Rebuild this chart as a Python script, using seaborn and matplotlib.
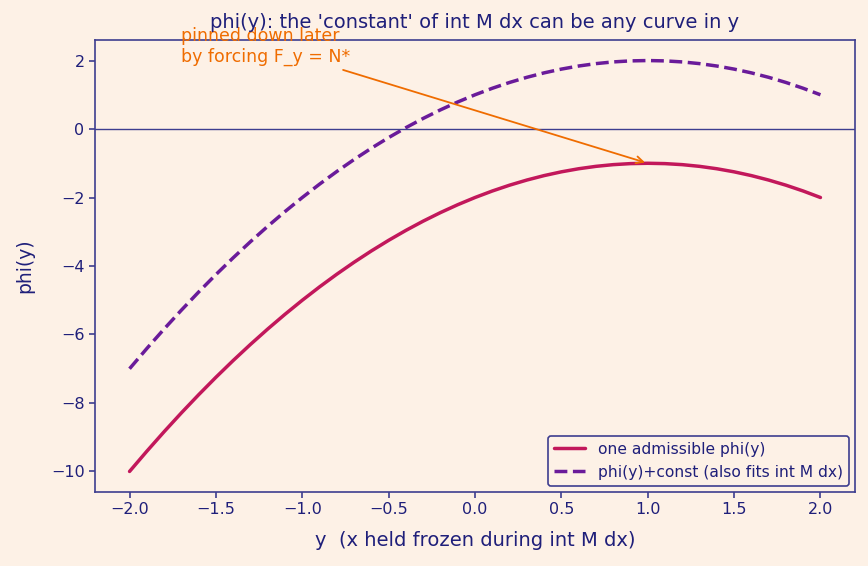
import matplotlib
matplotlib.use("Agg")
import matplotlib.pyplot as plt
import seaborn as sns
import pandas as pd

# data
y_vals = [-2.0, -1.9, -1.8, -1.7, -1.6, -1.5, -1.4, -1.3, -1.2, -1.1,
          -1.0, -0.9, -0.8, -0.7, -0.6, -0.5, -0.4, -0.3, -0.2, -0.1,
          0.0, 0.1, 0.2, 0.3, 0.4, 0.5, 0.6, 0.7, 0.8, 0.9,
          1.0, 1.1, 1.2, 1.3, 1.4, 1.5, 1.6, 1.7, 1.8, 1.9, 2.0]
phi_one = [-10.0, -9.41, -8.84, -8.29, -7.76, -7.25, -6.76, -6.29, -5.84, -5.41,
           -5.0, -4.61, -4.24, -3.89, -3.56, -3.25, -2.96, -2.69, -2.44, -2.21,
           -2.0, -1.81, -1.64, -1.49, -1.36, -1.25, -1.16, -1.09, -1.04, -1.01,
           -1.0, -1.01, -1.04, -1.09, -1.16, -1.25, -1.36, -1.49, -1.64, -1.81, -2.0]
phi_shift = [-7.0, -6.41, -5.84, -5.29, -4.76, -4.25, -3.76, -3.29, -2.84, -2.41,
             -2.0, -1.61, -1.24, -0.89, -0.56, -0.25, 0.04, 0.31, 0.56, 0.79,
             1.0, 1.19, 1.36, 1.51, 1.64, 1.75, 1.84, 1.91, 1.96, 1.99,
             2.0, 1.99, 1.96, 1.91, 1.84, 1.75, 1.64, 1.51, 1.36, 1.19, 1.0]
label_one = "one admissible phi(y)"
label_shift = "phi(y)+const (also fits int M dx)"
x_ticks = [-2.0, -1.5, -1.0, -0.5, 0.0, 0.5, 1.0, 1.5, 2.0]
y_ticks = [-10, -8, -6, -4, -2, 0, 2]

bg = "#fdf1e6"
navy = "#1f1f7a"
spine = "#3d3d8f"
red = "#c2185b"
purple = "#6a1b9a"
orange = "#ef6c00"

sns.set_style("white")
plt.rcParams["font.family"] = ["DejaVu Sans"]

fig = plt.figure(figsize=(8.68, 5.66), dpi=100, facecolor=bg)
ax = fig.add_axes([95/868, 1 - 492/566, 760/868, 452/566])
ax.set_facecolor(bg)

df1 = pd.DataFrame({"y": y_vals, "phi": phi_one})
df2 = pd.DataFrame({"y": y_vals, "phi": phi_shift})
sns.lineplot(data=df1, x="y", y="phi", ax=ax, color=red, lw=2.5, label=label_one)
sns.lineplot(data=df2, x="y", y="phi", ax=ax, color=purple, lw=2.5,
             linestyle=(0, (3.7, 1.6)), label=label_shift)

ax.axhline(0, color=spine, lw=1)

ax.set_xlim(-2.2, 2.2)
ax.set_ylim(-10.6, 2.6)
ax.set_xticks(x_ticks)
ax.set_yticks(y_ticks)

for s in ax.spines.values():
    s.set_color(spine)
    s.set_linewidth(1.2)
ax.tick_params(colors=spine, labelcolor=navy, labelsize=11.5, length=4, width=1.2,
               left=True, bottom=True)

ax.set_xlabel("y  (x held frozen during int M dx)", color=navy, fontsize=14, labelpad=10)
ax.set_ylabel("phi(y)", color=navy, fontsize=13.5, labelpad=12)
ax.set_title("phi(y): the 'constant' of int M dx can be any curve in y",
             color=navy, fontsize=14, pad=9)

ax.annotate("pinned down later\nby forcing F_y = N*", xy=(1.0, -1.0), xytext=(-1.7, 1.97),
            color=orange, fontsize=12.5,
            arrowprops=dict(arrowstyle="->", color=orange, lw=1.3))

leg = ax.legend(loc="lower right", fontsize=11.2, frameon=True, facecolor=bg,
                edgecolor=spine, labelcolor=navy, fancybox=True, borderaxespad=0.4)
leg.get_frame().set_linewidth(1.2)
leg.get_frame().set_alpha(1)

fig.savefig("out.png", dpi=100, facecolor=bg)
